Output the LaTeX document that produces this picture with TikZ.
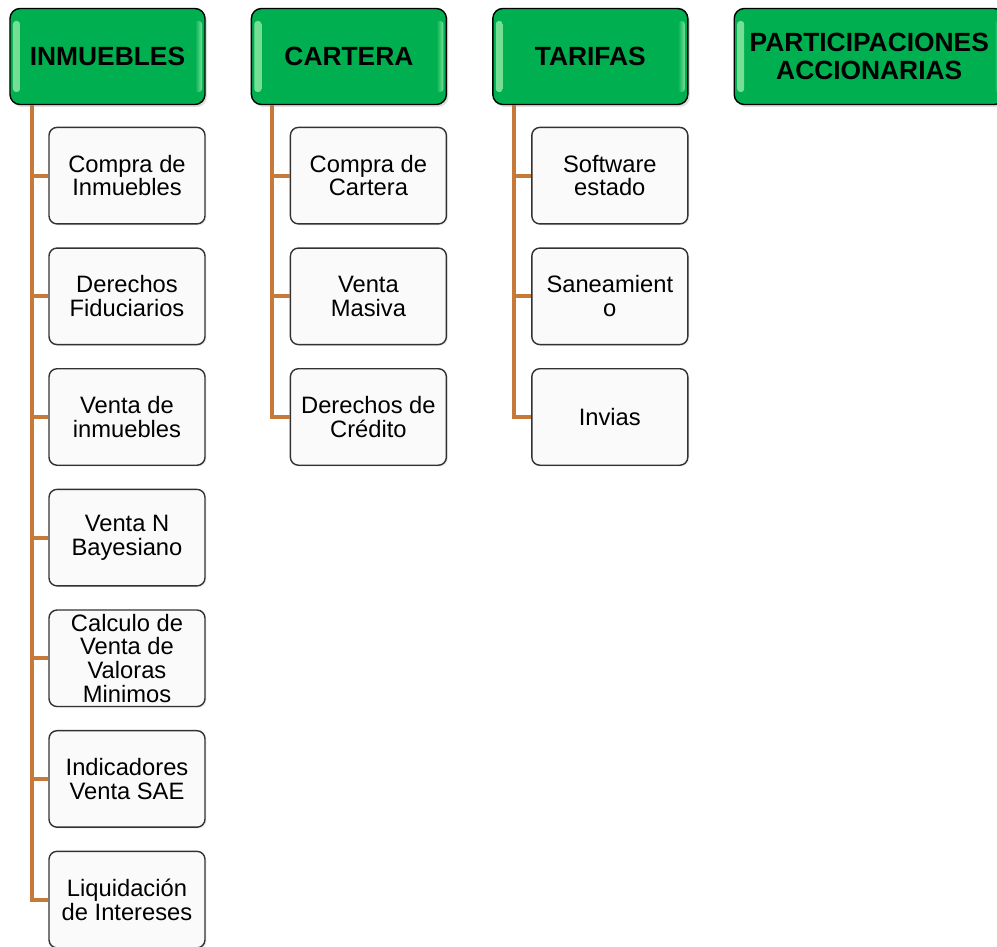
\documentclass[tikz,border=0pt]{standalone}
\usepackage{fontspec}
\setmainfont{Liberation Sans}
\usetikzlibrary{calc, positioning, shadows}
\definecolor{verdeCab}{RGB}{0,176,80}
\definecolor{verdeClaro}{RGB}{120,225,150}
\definecolor{naranja}{RGB}{197,122,58}
\definecolor{grisCaja}{RGB}{250,250,250}
\definecolor{bordeCaja}{RGB}{50,50,50}

\begin{document}
\begin{tikzpicture}[auto, node distance=0.455cm, thick]
      \tikzstyle{cabecera} = [rectangle, rounded corners=0.2cm, draw=black, fill=verdeCab, minimum width=3.9cm, minimum height=1.92cm, align=center, inner sep=1pt, font=\fontsize{15}{16}\selectfont\bfseries, drop shadow={opacity=0.25, shadow xshift=0.04cm, shadow yshift=-0.05cm},
            path picture={
                  \shade [draw=none, rounded corners=0.06cm, left color=verdeClaro, right color=verdeCab] ($(path picture bounding box.north west)+(0.06,-0.25)$) rectangle ($(path picture bounding box.south west)+(0.2,0.25)$);
                  \shade [draw=none, rounded corners=0.06cm, left color=verdeCab, right color=verdeClaro] ($(path picture bounding box.north east)+(-0.2,-0.25)$) rectangle ($(path picture bounding box.south east)+(-0.06,0.25)$);
            }]
      \tikzstyle{caja} = [rectangle, rounded corners=0.16cm, draw=bordeCaja, fill=grisCaja, minimum width=3.12cm, minimum height=1.93cm, align=center, inner sep=0pt, font=\fontsize{13.5}{13.5}\selectfont, drop shadow={opacity=0.12, shadow xshift=0.03cm, shadow yshift=-0.03cm}]
      \tikzstyle{conector} = [draw=naranja, line width=2.3pt]

      \useasboundingbox (0,0) rectangle (19.94,-18.94);

      % Cabeceras
      \node at (2.15,-1.13) [cabecera] (inm) {INMUEBLES};
      \node [cabecera, right=0.9cm of inm] (car) {CARTERA};
      \node [cabecera, right=0.9cm of car] (tar) {TARIFAS};
      \node [cabecera, right=0.9cm of tar, minimum width=5.4cm] (par) {PARTICIPACIONES\\ACCIONARIAS};

      % Inmuebles
      \node [caja, below=0.43cm of inm.south east, anchor=north east] (inm1) {Compra de\\Inmuebles};
      \node [caja, below=of inm1] (inm2) {Derechos\\Fiduciarios};
      \node [caja, below=of inm2] (inm3) {Venta de\\inmuebles};
      \node [caja, below=of inm3] (inm4) {Venta N\\Bayesiano};
      \node [caja, below=of inm4] (inm5) {Calculo de\\Venta de\\Valoras\\Minimos};
      \node [caja, below=of inm5] (inm6) {Indicadores\\Venta SAE};
      \node [caja, below=of inm6] (inm7) {Liquidación\\de Intereses};

      % Cartera
      \node [caja, below=0.43cm of car.south east, anchor=north east] (car1) {Compra de\\Cartera};
      \node [caja, below=of car1] (car2) {Venta\\Masiva};
      \node [caja, below=of car2] (car3) {Derechos de\\Crédito};

      % Tarifas
      \node [caja, below=0.43cm of tar.south east, anchor=north east] (tar1) {Software\\estado};
      \node [caja, below=of tar1] (tar2) {Saneamient\\o};
      \node [caja, below=of tar2] (tar3) {Invias};

      % Conectores
      \foreach \n in {1,...,7}
            \draw [conector] ($(inm.south west)+(0.45,0)$) |- (inm\n.west);
      \foreach \n in {1,2,3}
            \draw [conector] ($(car.south west)+(0.42,0)$) |- (car\n.west);
      \foreach \n in {1,2,3}
            \draw [conector] ($(tar.south west)+(0.44,0)$) |- (tar\n.west);

    \end{tikzpicture}
\end{document}
